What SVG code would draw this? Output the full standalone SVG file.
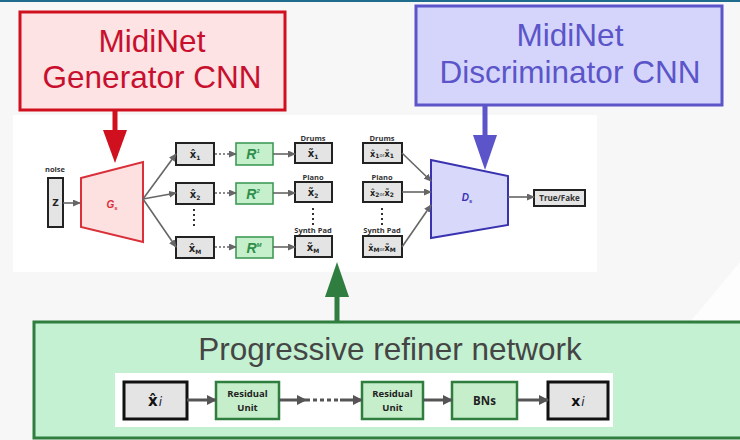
<svg xmlns="http://www.w3.org/2000/svg" width="740" height="440" viewBox="0 0 740 440">
  <style>
    .title { font-family: "Liberation Sans", Arial, sans-serif; font-size: 31.5px; text-anchor: middle; }
    .lbl { font-family: "Open Sans", "Liberation Sans", sans-serif; font-weight: bold; font-size: 7.5px; fill: #333; text-anchor: middle; }
    .sym { font-family: "DejaVu Sans", "Liberation Sans", sans-serif; font-weight: bold; font-size: 10px; fill: #222; text-anchor: middle; }
    .sub { font-size: 6px; }
    .sm { font-size: 8px; }
    .or { font-size: 5px; font-weight: normal; }
    .box { fill: #e4e4e4; stroke: #222; stroke-width: 2; }
    .rbox { fill: #c6efcc; stroke: #3f9a55; stroke-width: 1.6; }
    .rtext { font-family: "Liberation Sans", Arial, sans-serif; font-style: italic; font-weight: bold; font-size: 14px; fill: #2f8f4a; text-anchor: middle; }
    .wire { stroke: #666; stroke-width: 1.6; fill: none; }
    .dots { stroke: #666; stroke-width: 1.6; stroke-dasharray: 2 2; fill: none; }
    .vdots { stroke: #333; stroke-width: 2; stroke-dasharray: 2 3; fill: none; }
    .bwire { stroke: #555; stroke-width: 3; fill: none; }
    .gbox { fill: #c6eecb; stroke: #2f7d3f; stroke-width: 2.5; }
    .rlabel { font-family: "Open Sans", "Liberation Sans", sans-serif; font-weight: bold; font-size: 9.5px; fill: #222; text-anchor: middle; }
  </style>
  <defs>
    <marker id="ah" markerUnits="userSpaceOnUse" markerWidth="8" markerHeight="7" refX="7" refY="3.5" orient="auto">
      <path d="M0,0 L8,3.5 L0,7 z" fill="#666"/>
    </marker>
    <marker id="ahb" markerUnits="userSpaceOnUse" markerWidth="10" markerHeight="10" refX="9" refY="5" orient="auto">
      <path d="M0,0 L10,5 L0,10 z" fill="#555"/>
    </marker>
  </defs>

  <!-- slide background -->
  <rect x="0" y="0" width="740" height="440" fill="#f7f7f7"/>
  <polygon points="740,262 740,322 690,322" fill="#fdfdfd"/>
  <rect x="0" y="0" width="740" height="2" fill="#1f6c8c"/>

  <!-- figure panel -->
  <rect x="13" y="115" width="584" height="157" fill="#ffffff"/>

  <!-- callout: generator -->
  <g id="generator-callout">
    <rect x="20" y="12" width="265" height="98" fill="#fde3e4" stroke="#d0101e" stroke-width="3"/>
    <text class="title" x="152" y="52" fill="#c8102e">MidiNet</text>
    <text class="title" x="152" y="88" fill="#c8102e">Generator CNN</text>
  </g>

  <!-- callout: discriminator -->
  <g id="discriminator-callout">
    <rect x="416" y="6" width="306" height="99" fill="#d5d5fb" stroke="#5b55c9" stroke-width="3"/>
    <text class="title" x="570" y="46" fill="#5b55c9">MidiNet</text>
    <text class="title" x="570" y="83" fill="#5b55c9">Discriminator CNN</text>
  </g>

  <!-- callout: refiner -->
  <g id="refiner-callout">
    <rect x="34" y="322" width="720" height="116" fill="#c3f1d1" stroke="#2f7d3f" stroke-width="3"/>
    <text class="title" x="390" y="360" fill="#454545">Progressive refiner network</text>
    <rect x="115" y="373" width="498" height="54" fill="#ffffff"/>
  </g>

  <!-- noise input -->
  <g id="noise">
    <text class="lbl" x="55" y="172">noise</text>
    <rect class="box" x="48" y="178" width="15" height="49"/>
    <text class="sym" x="55.5" y="206" style="font-size:9px">Z</text>
  </g>

  <!-- generator -->
  <g id="gen">
    <polygon points="81,178 143,162 143,242 81,227" fill="#fde1e1" stroke="#d9303a" stroke-width="2"/>
    <text x="112" y="208" font-family="Liberation Sans, Arial, sans-serif" font-size="10" font-style="italic" font-weight="bold" fill="#d9303a" text-anchor="middle">G<tspan font-size="6" dy="2">s</tspan></text>
  </g>

  <!-- generated tracks -->
  <g id="xhat-1">
    <rect class="box" x="176" y="143" width="38" height="22"/>
    <text class="sym" x="195" y="158">x̂<tspan class="sub" dy="2">1</tspan></text>
  </g>
  <g id="xhat-2">
    <rect class="box" x="176" y="183" width="38" height="21"/>
    <text class="sym" x="195" y="198">x̂<tspan class="sub" dy="2">2</tspan></text>
  </g>
  <g id="xhat-M">
    <rect class="box" x="176" y="237" width="38" height="21"/>
    <text class="sym" x="195" y="252">x̂<tspan class="sub" dy="2">M</tspan></text>
  </g>

  <!-- refiners -->
  <g id="r-1">
    <rect class="rbox" x="236" y="143" width="37" height="22"/>
    <text class="rtext" x="253" y="159">R<tspan font-size="6" dy="-6">1</tspan></text>
  </g>
  <g id="r-2">
    <rect class="rbox" x="236" y="183" width="37" height="21"/>
    <text class="rtext" x="253" y="199">R<tspan font-size="6" dy="-6">2</tspan></text>
  </g>
  <g id="r-M">
    <rect class="rbox" x="236" y="237" width="37" height="21"/>
    <text class="rtext" x="254" y="253">R<tspan font-size="6" dy="-6">M</tspan></text>
  </g>

  <!-- refined tracks -->
  <g id="xtilde-1">
    <text class="lbl" x="313" y="141">Drums</text>
    <rect class="box" x="295" y="143" width="37" height="20"/>
    <text class="sym" x="313" y="157">x̃<tspan class="sub" dy="2">1</tspan></text>
  </g>
  <g id="xtilde-2">
    <text class="lbl" x="313" y="180">Piano</text>
    <rect class="box" x="295" y="182" width="37" height="20"/>
    <text class="sym" x="313" y="196">x̃<tspan class="sub" dy="2">2</tspan></text>
  </g>
  <g id="xtilde-M">
    <text class="lbl" x="313" y="233">Synth Pad</text>
    <rect class="box" x="295" y="236" width="37" height="21"/>
    <text class="sym" x="313" y="251">x̃<tspan class="sub" dy="2">M</tspan></text>
  </g>

  <!-- discriminator inputs -->
  <g id="din-1">
    <text class="lbl" x="382" y="141">Drums</text>
    <rect class="box" x="363" y="143" width="39" height="20"/>
    <text class="sym sm" x="382" y="157">x̂<tspan class="sub" dy="1">1</tspan><tspan class="or" dy="-1">or</tspan>x̃<tspan class="sub" dy="1">1</tspan></text>
  </g>
  <g id="din-2">
    <text class="lbl" x="382" y="180">Piano</text>
    <rect class="box" x="363" y="182" width="39" height="20"/>
    <text class="sym sm" x="382" y="196">x̂<tspan class="sub" dy="1">2</tspan><tspan class="or" dy="-1">or</tspan>x̃<tspan class="sub" dy="1">2</tspan></text>
  </g>
  <g id="din-M">
    <text class="lbl" x="382" y="233">Synth Pad</text>
    <rect class="box" x="363" y="236" width="39" height="21"/>
    <text class="sym sm" x="382" y="251">x̂<tspan class="sub" dy="1">M</tspan><tspan class="or" dy="-1">or</tspan>x̃<tspan class="sub" dy="1">M</tspan></text>
  </g>

  <!-- discriminator -->
  <g id="disc">
    <polygon points="431,160 508,176 508,225 431,238" fill="#d8d8fb" stroke="#3a33b0" stroke-width="2"/>
    <text x="467" y="201" font-family="Liberation Sans, Arial, sans-serif" font-size="10" font-style="italic" font-weight="bold" fill="#3a33b0" text-anchor="middle">D<tspan font-size="6" dy="2">s</tspan></text>
  </g>

  <g id="output">
    <rect class="box" x="534" y="190" width="51" height="16"/>
    <text class="lbl" x="559.5" y="201" style="font-size:8px">True/Fake</text>
  </g>

  <!-- refiner pipeline -->
  <g id="in-xi">
    <rect x="124" y="382" width="63" height="37" fill="#e4e4e4" stroke="#111" stroke-width="3"/>
    <text x="155" y="406" font-family="DejaVu Sans, sans-serif" font-weight="bold" font-size="15" fill="#111" text-anchor="middle">x̂<tspan font-style="italic" font-weight="normal" font-size="12" fill="#223" dx="1">i</tspan></text>
  </g>
  <g id="res-1">
    <rect class="gbox" x="216" y="382" width="63" height="37"/>
    <text class="rlabel" x="247.5" y="397">Residual</text>
    <text class="rlabel" x="247.5" y="411">Unit</text>
  </g>
  <g id="res-n">
    <rect class="gbox" x="362" y="382" width="61" height="37"/>
    <text class="rlabel" x="392.5" y="397">Residual</text>
    <text class="rlabel" x="392.5" y="411">Unit</text>
  </g>
  <g id="bns">
    <rect class="gbox" x="452" y="382" width="65" height="37"/>
    <text class="rlabel" x="484.5" y="405" style="font-size:11.5px">BNs</text>
  </g>
  <g id="out-xi">
    <rect x="548" y="382" width="60" height="37" fill="#e4e4e4" stroke="#111" stroke-width="3"/>
    <text x="578" y="406" font-family="DejaVu Sans, sans-serif" font-weight="bold" font-size="14" fill="#111" text-anchor="middle">x<tspan font-style="italic" font-weight="normal" font-size="12" fill="#223" dx="1">i</tspan></text>
  </g>

  <!-- connectors -->
  <g id="connectors">
    <line class="wire" x1="63" y1="203" x2="80" y2="203" marker-end="url(#ah)"/>
    <line class="wire" x1="143" y1="199" x2="176" y2="154" marker-end="url(#ah)"/>
    <line class="wire" x1="143" y1="199" x2="176" y2="193" marker-end="url(#ah)"/>
    <line class="wire" x1="143" y1="199" x2="176" y2="247" marker-end="url(#ah)"/>
    <line class="vdots" x1="194" y1="209" x2="194" y2="228"/>
    <line class="vdots" x1="313" y1="208" x2="313" y2="228"/>
    <line class="vdots" x1="382" y1="208" x2="382" y2="228"/>

    <line class="dots" x1="215" y1="154" x2="228" y2="154"/>
    <line class="wire" x1="228" y1="154" x2="236" y2="154" marker-end="url(#ah)"/>
    <line class="dots" x1="215" y1="193" x2="228" y2="193"/>
    <line class="wire" x1="228" y1="193" x2="236" y2="193" marker-end="url(#ah)"/>
    <line class="dots" x1="215" y1="247" x2="228" y2="247"/>
    <line class="wire" x1="228" y1="247" x2="236" y2="247" marker-end="url(#ah)"/>

    <line class="wire" x1="273" y1="154" x2="295" y2="154" marker-end="url(#ah)"/>
    <line class="wire" x1="273" y1="193" x2="295" y2="193" marker-end="url(#ah)"/>
    <line class="wire" x1="273" y1="247" x2="295" y2="247" marker-end="url(#ah)"/>

    <line class="wire" x1="402" y1="153" x2="431" y2="181" marker-end="url(#ah)"/>
    <line class="wire" x1="402" y1="192" x2="431" y2="192" marker-end="url(#ah)"/>
    <line class="wire" x1="402" y1="247" x2="431" y2="205" marker-end="url(#ah)"/>
    <line class="wire" x1="508" y1="197" x2="534" y2="197" marker-end="url(#ah)"/>

    <line class="bwire" x1="187" y1="400" x2="216" y2="400" marker-end="url(#ahb)"/>
    <line class="bwire" x1="279" y1="400" x2="306" y2="400" marker-end="url(#ahb)"/>
    <line class="bwire" x1="306" y1="400" x2="340" y2="400" stroke-dasharray="4 3"/>
    <line class="bwire" x1="340" y1="400" x2="362" y2="400" marker-end="url(#ahb)"/>
    <line class="bwire" x1="423" y1="400" x2="452" y2="400" marker-end="url(#ahb)"/>
    <line class="bwire" x1="517" y1="400" x2="548" y2="400" marker-end="url(#ahb)"/>

    <!-- callout pointers -->
    <rect x="112.5" y="110" width="5" height="21" fill="#d0101e"/>
    <polygon points="103,130 127,130 115,163" fill="#d0101e"/>
    <rect x="482.5" y="105" width="5" height="31" fill="#5b55c9"/>
    <polygon points="473,135 497,135 485,170" fill="#5b55c9"/>
    <rect x="334.5" y="296" width="5" height="26" fill="#2f7d3f"/>
    <polygon points="325,297 349,297 337,262" fill="#2f7d3f"/>
  </g>
</svg>
